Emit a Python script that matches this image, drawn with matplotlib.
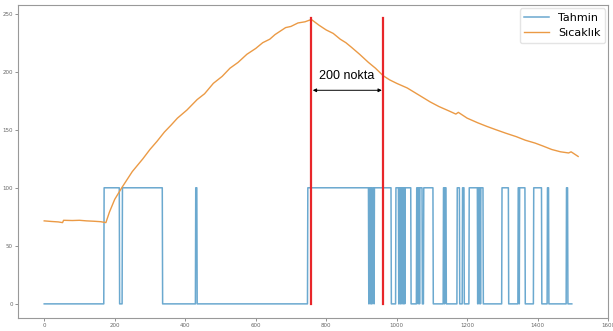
import matplotlib.pyplot as plt
import numpy as np

# Tahmin: intervals (start, end) where prediction is 100, otherwise 0
tahmin_len = 1498
tahmin_on = [
    (170, 207), (208, 209), (210, 211), (212, 213), (222, 335), (430, 433),
    (748, 920), (922, 924), (926, 928), (931, 935), (937, 984),
    (998, 1005), (1008, 1010), (1012, 1014), (1016, 1018), (1020, 1022),
    (1024, 1040), (1057, 1060), (1062, 1064), (1066, 1072), (1077, 1103),
    (1133, 1135), (1137, 1140), (1172, 1178), (1187, 1191), (1206, 1229),
    (1231, 1233), (1235, 1237), (1239, 1245), (1299, 1317), (1345, 1347),
    (1349, 1364), (1389, 1411), (1428, 1431), (1482, 1485),
]

# Sicaklik: temperature readings
sicaklik_x = [0, 20, 40, 52, 55, 80, 100, 120, 140, 160, 175, 185, 200, 220, 250,
              280, 300, 320, 341, 360, 378, 405, 434, 455, 480, 505, 527, 550, 575,
              600, 620, 640, 655, 670, 685, 700, 720, 740, 758,
              780, 800, 820, 840, 856, 872, 895, 920, 940, 962, 980, 1000, 1030,
              1068, 1095, 1120, 1150, 1168, 1175, 1185, 1200, 1230, 1255,
              1282, 1310, 1340, 1365, 1393, 1415, 1440, 1465, 1488, 1495, 1515]
sicaklik_y = [71.5, 71, 70.6, 70, 72, 71.8, 72, 71.5, 71.2, 70.8, 70, 79, 90, 100, 114,
              125, 133, 140, 148, 154, 160, 167, 176, 181, 190, 196, 203, 208, 215,
              220, 225, 228, 232, 235, 238, 239, 242, 243, 245,
              240, 236, 233, 228, 225, 221, 215, 208, 203, 196.5, 193, 190, 186,
              179, 174, 170, 166, 163.5, 165, 163, 160, 156, 153,
              150, 147, 144, 141, 138.5, 136, 133, 131, 130, 131, 127]

# red markers and annotation
marker_x = [758, 960]
marker_top = 246
label = '200 nokta'

t = np.zeros(tahmin_len)
for a, b in tahmin_on:
    t[a:b + 1] = 100

fig = plt.figure(figsize=(6.13, 3.31), dpi=100)
ax = fig.add_axes([0.029, 0.039, 0.963, 0.946])

ax.plot(np.arange(tahmin_len), t, color='#3a8cc0', lw=1.1, alpha=0.75, label='Tahmin')
ax.plot(sicaklik_x, sicaklik_y, color='#eb9a45', lw=1.0, label='Sıcaklık')

for mx in marker_x:
    ax.plot([mx, mx], [0, marker_top], color='#e8262a', lw=1.6)

ax.annotate('', xy=(marker_x[0] + 4, 184), xytext=(marker_x[1] - 2, 184),
            arrowprops=dict(arrowstyle='<|-|>', color='black', lw=0.7,
                            mutation_scale=5, shrinkA=0, shrinkB=0))
ax.text(sum(marker_x) / 2, 191, label, ha='center', va='bottom',
        fontsize=9, family='Liberation Sans')

ax.set_xlim(-75, 1575)
ax.set_ylim(-12.25, 257.5)
ax.set_xticks(range(0, 1601, 200))
ax.set_yticks(range(0, 251, 50))
ax.tick_params(labelsize=4, length=2, width=0.5, colors='#666666', pad=1.5)
for s in ax.spines.values():
    s.set_color('#999999')
    s.set_linewidth(0.8)

leg = ax.legend(loc='upper right', fontsize=8, handlelength=2.2, borderaxespad=0.3,
                framealpha=1, edgecolor='#e4e4e4', fancybox=True)

plt.savefig('out.png', dpi=100)
